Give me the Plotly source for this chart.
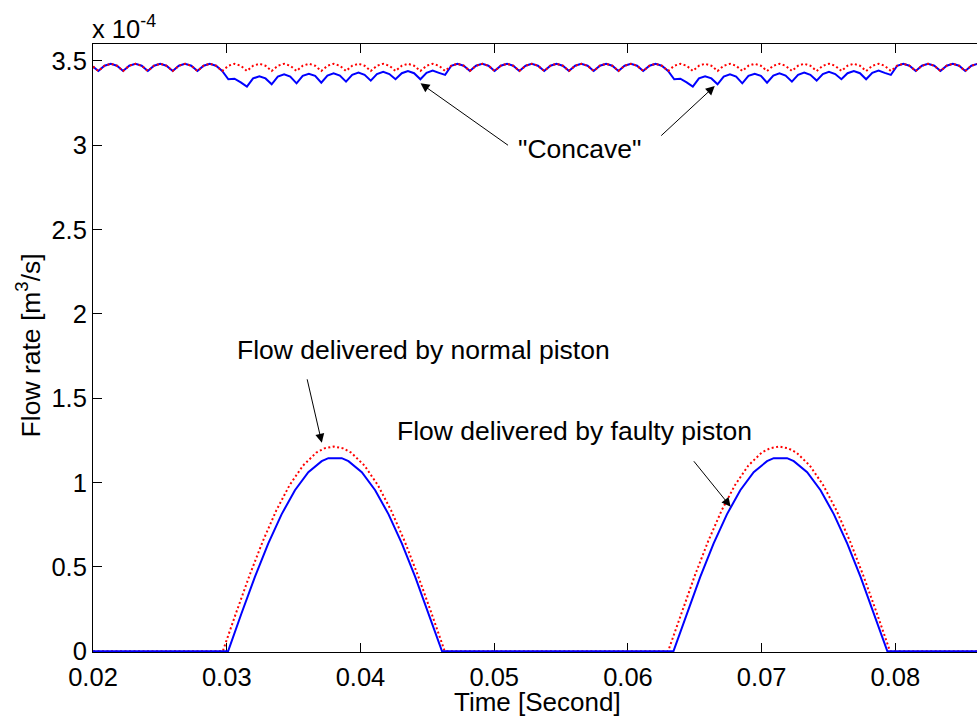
import plotly.graph_objects as go

# ---------------- data (flow in units of 1e-4 m^3/s) ----------------
t_total = [
    0.02000,
    0.02040, 0.02086, 0.02133, 0.02179,
    0.02225, 0.02271, 0.02318, 0.02364,
    0.02410, 0.02456, 0.02503, 0.02549,
    0.02596, 0.02642, 0.02688, 0.02735,
    0.02781, 0.02827, 0.02873, 0.02920,
    0.02966, 0.03012, 0.03058, 0.03105,
    0.03151, 0.03197, 0.03244, 0.03290,
    0.03336, 0.03382, 0.03429, 0.03475,
    0.03522, 0.03568, 0.03614, 0.03661,
    0.03707, 0.03753, 0.03799, 0.03846,
    0.03892, 0.03938, 0.03985, 0.04031,
    0.04077, 0.04123, 0.04170, 0.04216,
    0.04262, 0.04309, 0.04355, 0.04401,
    0.04448, 0.04494, 0.04540, 0.04587,
    0.04633, 0.04679, 0.04725, 0.04772,
    0.04818, 0.04864, 0.04911, 0.04957,
    0.05003, 0.05049, 0.05096, 0.05142,
    0.05188, 0.05235, 0.05281, 0.05327,
    0.05374, 0.05420, 0.05466, 0.05513,
    0.05559, 0.05605, 0.05651, 0.05698,
    0.05744, 0.05790, 0.05837, 0.05883,
    0.05929, 0.05975, 0.06022, 0.06068,
    0.06114, 0.06161, 0.06207, 0.06253,
    0.06300, 0.06346, 0.06392, 0.06439,
    0.06485, 0.06531, 0.06577, 0.06624,
    0.06670, 0.06716, 0.06763, 0.06809,
    0.06855, 0.06901, 0.06948, 0.06994,
    0.07040, 0.07087, 0.07133, 0.07179,
    0.07226, 0.07272, 0.07318, 0.07364,
    0.07411, 0.07457, 0.07503, 0.07550,
    0.07596, 0.07642, 0.07689, 0.07735,
    0.07781, 0.07827, 0.07874, 0.07920,
    0.07966, 0.08013, 0.08059, 0.08105,
    0.08152, 0.08198, 0.08244, 0.08291,
    0.08337, 0.08383, 0.08429, 0.08476,
    0.08522, 0.08568, 0.08615, 0.08661,
    0.08707,
]

q_total_normal = [
    3.466,
    3.440, 3.471, 3.483, 3.471,
    3.440, 3.471, 3.483, 3.471,
    3.440, 3.471, 3.483, 3.471,
    3.440, 3.471, 3.483, 3.471,
    3.440, 3.471, 3.483, 3.471,
    3.440, 3.471, 3.483, 3.471,
    3.440, 3.471, 3.483, 3.471,
    3.440, 3.471, 3.483, 3.471,
    3.440, 3.471, 3.483, 3.471,
    3.440, 3.471, 3.483, 3.471,
    3.440, 3.471, 3.483, 3.471,
    3.440, 3.471, 3.483, 3.471,
    3.440, 3.471, 3.483, 3.471,
    3.440, 3.471, 3.483, 3.471,
    3.440, 3.471, 3.483, 3.471,
    3.440, 3.471, 3.483, 3.471,
    3.440, 3.471, 3.483, 3.471,
    3.440, 3.471, 3.483, 3.471,
    3.440, 3.471, 3.483, 3.471,
    3.440, 3.471, 3.483, 3.471,
    3.440, 3.471, 3.483, 3.471,
    3.440, 3.471, 3.483, 3.471,
    3.440, 3.471, 3.483, 3.471,
    3.440, 3.471, 3.483, 3.471,
    3.440, 3.471, 3.483, 3.471,
    3.440, 3.471, 3.483, 3.471,
    3.440, 3.471, 3.483, 3.471,
    3.440, 3.471, 3.483, 3.471,
    3.440, 3.471, 3.483, 3.471,
    3.440, 3.471, 3.483, 3.471,
    3.440, 3.471, 3.483, 3.471,
    3.440, 3.471, 3.483, 3.471,
    3.440, 3.471, 3.483, 3.471,
    3.440, 3.471, 3.483, 3.471,
    3.440, 3.471, 3.483, 3.471,
    3.440, 3.471, 3.483, 3.471,
    3.440,
]

q_total_faulty = [
    3.466,
    3.440, 3.471, 3.483, 3.471,
    3.440, 3.471, 3.483, 3.471,
    3.440, 3.471, 3.483, 3.471,
    3.440, 3.471, 3.483, 3.471,
    3.440, 3.471, 3.483, 3.471,
    3.440, 3.391, 3.394, 3.372,
    3.347, 3.396, 3.409, 3.396,
    3.361, 3.407, 3.420, 3.407,
    3.367, 3.411, 3.424, 3.411,
    3.371, 3.413, 3.426, 3.413,
    3.377, 3.417, 3.430, 3.417,
    3.383, 3.422, 3.435, 3.422,
    3.391, 3.427, 3.440, 3.427,
    3.391, 3.429, 3.442, 3.429,
    3.417, 3.471, 3.483, 3.471,
    3.440, 3.471, 3.483, 3.471,
    3.440, 3.471, 3.483, 3.471,
    3.440, 3.471, 3.483, 3.471,
    3.440, 3.471, 3.483, 3.471,
    3.440, 3.471, 3.483, 3.471,
    3.440, 3.471, 3.483, 3.471,
    3.440, 3.471, 3.483, 3.471,
    3.440, 3.471, 3.483, 3.471,
    3.440, 3.391, 3.394, 3.372,
    3.347, 3.396, 3.409, 3.396,
    3.361, 3.407, 3.420, 3.407,
    3.367, 3.411, 3.424, 3.411,
    3.371, 3.413, 3.426, 3.413,
    3.377, 3.417, 3.430, 3.417,
    3.383, 3.422, 3.435, 3.422,
    3.391, 3.427, 3.440, 3.427,
    3.391, 3.429, 3.442, 3.429,
    3.417, 3.471, 3.483, 3.471,
    3.440, 3.471, 3.483, 3.471,
    3.440, 3.471, 3.483, 3.471,
    3.440, 3.471, 3.483, 3.471,
    3.440,
]

t_piston_normal = [
    0.0200,
    0.0297, 0.0307, 0.0317, 0.0327, 0.0337, 0.0347, 0.0357, 0.0367, 0.0373,
    0.0380, 0.0387, 0.0393, 0.0403, 0.0413, 0.0423, 0.0433, 0.0443, 0.0453, 0.0463,
    0.0630, 0.0640, 0.0650, 0.0660, 0.0670, 0.0680, 0.0690, 0.0700, 0.0706,
    0.0713, 0.0720, 0.0726, 0.0736, 0.0746, 0.0756, 0.0766, 0.0776, 0.0786, 0.0796,
    0.0870,
]
q_piston_normal = [
    0.0,
    0.0, 0.228, 0.449, 0.653, 0.834, 0.985, 1.101, 1.178, 1.203,
    1.214, 1.203, 1.178, 1.101, 0.985, 0.834, 0.653, 0.449, 0.228, 0.0,
    0.0, 0.228, 0.449, 0.653, 0.834, 0.985, 1.101, 1.178, 1.203,
    1.214, 1.203, 1.178, 1.101, 0.985, 0.834, 0.653, 0.449, 0.228, 0.0,
    0.0,
]

t_piston_faulty = [
    0.0200,
    0.0301, 0.0311, 0.0321, 0.0331, 0.0341, 0.0351, 0.0361, 0.0371, 0.0376,
    0.0386, 0.0391, 0.0401, 0.0411, 0.0421, 0.0431, 0.0441, 0.0451, 0.0461,
    0.0634, 0.0644, 0.0654, 0.0664, 0.0674, 0.0684, 0.0694, 0.0704, 0.0709,
    0.0719, 0.0724, 0.0734, 0.0744, 0.0754, 0.0764, 0.0774, 0.0784, 0.0794,
    0.0870,
]
q_piston_faulty = [
    0.0,
    0.0, 0.224, 0.440, 0.638, 0.812, 0.955, 1.062, 1.127, 1.145,
    1.145, 1.127, 1.062, 0.955, 0.812, 0.638, 0.440, 0.224, 0.0,
    0.0, 0.224, 0.440, 0.638, 0.812, 0.955, 1.062, 1.127, 1.145,
    1.145, 1.127, 1.062, 0.955, 0.812, 0.638, 0.440, 0.224, 0.0,
    0.0,
]

x_tick_vals = [0.02, 0.03, 0.04, 0.05, 0.06, 0.07, 0.08]
x_tick_text = ["0.02", "0.03", "0.04", "0.05", "0.06", "0.07", "0.08"]
y_tick_vals = [0, 0.5, 1, 1.5, 2, 2.5, 3, 3.5]
y_tick_text = ["0", "0.5", "1", "1.5", "2", "2.5", "3", "3.5"]

x_range = [0.02, 0.0861]
y_range = [-0.004, 3.6]

assert len(t_total) == len(q_total_normal) == len(q_total_faulty)
assert len(t_piston_normal) == len(q_piston_normal)
assert len(t_piston_faulty) == len(q_piston_faulty)

# ---------------- figure ----------------
FONT = "Liberation Sans, Arial, Helvetica, sans-serif"
FS_TICK = 25.5
FS_TEXT = 26.5
RED = "#ff0000"
BLUE = "#0000ff"
DOT = "2px,2.5px"

fig = go.Figure()
fig.add_trace(go.Scatter(x=t_piston_normal, y=q_piston_normal, mode="lines",
                         line=dict(color=RED, width=2, dash=DOT), showlegend=False))
fig.add_trace(go.Scatter(x=t_piston_faulty, y=q_piston_faulty, mode="lines",
                         line=dict(color=BLUE, width=2), showlegend=False))
fig.add_trace(go.Scatter(x=t_total, y=q_total_faulty, mode="lines",
                         line=dict(color=BLUE, width=2), showlegend=False))
fig.add_trace(go.Scatter(x=t_total, y=q_total_normal, mode="lines",
                         line=dict(color=RED, width=2, dash=DOT), showlegend=False))

axis_common = dict(
    showgrid=False, zeroline=False, showline=True, linecolor="black", linewidth=1,
    ticks="inside", ticklen=9, tickwidth=1, tickcolor="black",
    tickfont=dict(family=FONT, size=FS_TICK, color="black"), layer="below traces",
)
fig.update_xaxes(range=x_range, tickvals=x_tick_vals, ticktext=x_tick_text,
                 mirror="ticks", ticklabelstandoff=2, **axis_common)
fig.update_yaxes(range=y_range, tickvals=y_tick_vals, ticktext=y_tick_text,
                 mirror=False, **axis_common)

ann_font = dict(family=FONT, size=FS_TEXT, color="black")
annotations = [
    # exponent label
    dict(text="x 10<sup>-4</sup>", xref="paper", yref="paper", x=0, y=1,
         xanchor="left", yanchor="bottom", showarrow=False,
         font=dict(family=FONT, size=25.5, color="black"), xshift=-3, yshift=-1),
    # axis titles
    dict(text="Flow rate [m<sup>3</sup>/s]", xref="paper", yref="paper",
         x=-0.073, y=0.505, xanchor="center", yanchor="middle", textangle=-90,
         showarrow=False, font=ann_font),
    dict(text="Time [Second]", xref="paper", yref="paper", x=0.5023, y=-0.0825,
         xanchor="center", yanchor="middle", showarrow=False,
         font=dict(family=FONT, size=26, color="black"), borderpad=0),
    # text labels
    dict(text="\"Concave\"", x=0.0564, y=2.978, xref="x", yref="y",
         xanchor="center", yanchor="middle", showarrow=False, font=ann_font),
    dict(text="Flow delivered by normal piston", x=0.03061, y=1.787, xref="x", yref="y",
         xanchor="left", yanchor="middle", showarrow=False, font=ann_font),
    dict(text="Flow delivered by faulty piston", x=0.04257, y=1.307, xref="x", yref="y",
         xanchor="left", yanchor="middle", showarrow=False, font=ann_font),
]
arrow_style = dict(text="", showarrow=True, arrowhead=2, arrowsize=1.8, arrowwidth=1,
                   arrowcolor="black", xref="x", yref="y", axref="pixel", ayref="pixel")
arrows = [
    dict(x=0.04449, y=3.367, ax=89, ay=63),
    dict(x=0.06649, y=3.351, ax=-55, ay=51),
    dict(x=0.03711, y=1.236, ax=-15, ay=-65),
    dict(x=0.06768, y=0.857, ax=-38, ay=-47),
]
for a in arrows:
    annotations.append({**arrow_style, **a})

fig.update_layout(
    width=977, height=717,
    margin=dict(l=93, r=0, t=44, b=65, pad=0),
    paper_bgcolor="white", plot_bgcolor="white",
    annotations=annotations,
    font=dict(family=FONT, size=FS_TICK, color="black"),
)

fig.write_html("out.html")
